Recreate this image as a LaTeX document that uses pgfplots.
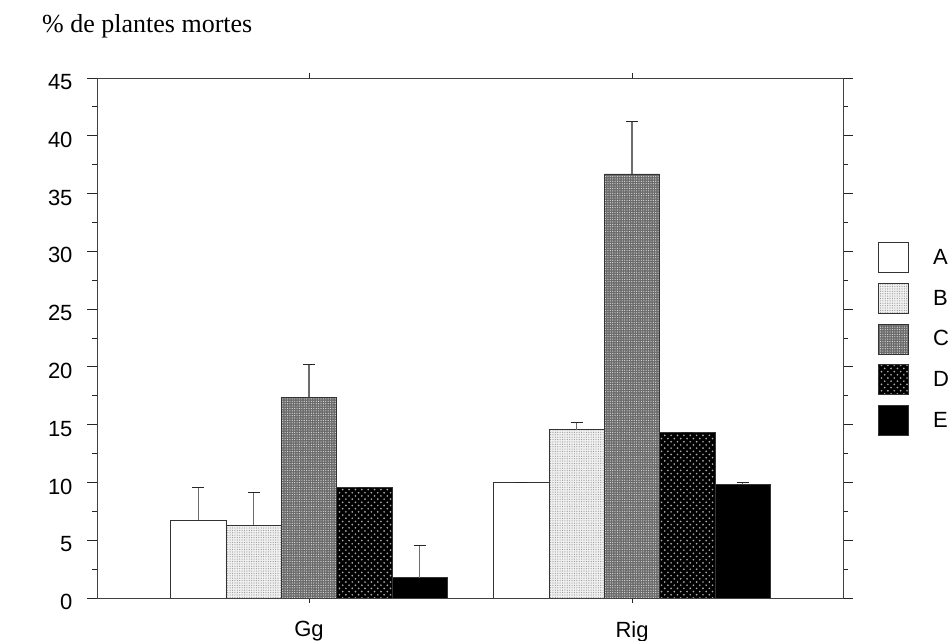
\documentclass[border=0pt]{standalone}
\usepackage{fontspec}
\setmainfont{Liberation Sans}
\newfontfamily\seriffont{Liberation Serif}
\usepackage{pgfplots}
\pgfplotsset{compat=1.18}
\usetikzlibrary{patterns}
\pgfdeclarepatternformonly{bigdots}{\pgfpoint{-1pt}{-1pt}}{\pgfpoint{7pt}{7pt}}{\pgfpoint{6.4pt}{6.4pt}}{%
  \pgfpathcircle{\pgfpoint{1.6pt}{1.6pt}}{0.95pt}%
  \pgfpathcircle{\pgfpoint{4.8pt}{4.8pt}}{0.95pt}%
  \pgfusepath{fill}}
\pgfdeclarepatternformonly{smalldots}{\pgfpoint{-1pt}{-1pt}}{\pgfpoint{3pt}{3pt}}{\pgfpoint{2.4pt}{2.4pt}}{%
  \pgfpathcircle{\pgfpoint{0.6pt}{0.6pt}}{0.6pt}%
  \pgfusepath{fill}}
\begin{document}
\begin{tikzpicture}
\useasboundingbox (0,0) rectangle (948bp,641bp);
\node[anchor=base west, font=\seriffont\fontsize{26bp}{30bp}\selectfont, inner sep=0pt] at (42bp,608bp) {\% de plantes mortes};
\begin{axis}[
  at={(97bp,43bp)}, anchor=south west,
  scale only axis, width=746bp, height=520bp,
  ymin=0, ymax=45, xmin=0.344, xmax=2.653,
  ytick={0,5,...,45}, minor y tick num=1,
  xtick={1,2}, xticklabels={Gg,Rig},
  tick align=outside, major tick length=10bp, minor tick length=5bp,
  xtick style={/pgfplots/major tick length=5bp},
  axis line style={black!75, line width=0.8pt},
  tick style={black!85, line width=0.8pt},
  /pgf/number format/assume math mode=true,
  tick label style={font=\fontsize{22bp}{26bp}\selectfont},
  yticklabel style={yshift=-4bp, xshift=-11bp},
  xticklabel style={yshift=-10bp},
  ybar=0pt, bar width=0.1712,
  legend style={at={(1.047,0.685)}, anchor=north west, draw=none, fill=none,
    row sep=10bp, inner sep=0pt, font=\fontsize{22bp}{26bp}\selectfont,
    nodes={inner sep=0pt}, column sep=24bp},
  legend cell align=left,
  legend image code/.code={\draw[#1, draw=black!80, line width=0.8pt] (0bp,-15bp) rectangle (30bp,15bp);},
  every axis plot/.append style={draw=black!80, line width=0.8pt,
    error bars/y dir=plus, error bars/y explicit,
    error bars/error bar style={gray!85!black, line width=1.2pt},
    error bars/error mark options={rotate=90, mark size=6bp, black!85, line width=0.9pt}},
]
\addplot[fill=white, bar shift=-0.3424] coordinates {(1,6.75) +- (0,2.8) (2,9.98) +- (0,0)};
\addplot[fill=gray!12, postaction={pattern=smalldots, pattern color=gray!80}, bar shift=-0.1712] coordinates {(1,6.3) +- (0,2.8) (2,14.55) +- (0,0.65)};
\addplot[fill=black!58, postaction={pattern=smalldots, pattern color=gray!25}, bar shift=0] coordinates {(1,17.36) +- (0,2.85) (2,36.7) +- (0,4.5)};
\addplot[fill=black, postaction={pattern=bigdots, pattern color=gray!65}, bar shift=0.1712] coordinates {(1,9.57) +- (0,0) (2,14.3) +- (0,0)};
\addplot[fill=black, bar shift=0.3424] coordinates {(1,1.76) +- (0,2.8) (2,9.83) +- (0,0.15)};
\legend{A,B,C,D,E}
\end{axis}
\end{tikzpicture}
\end{document}
